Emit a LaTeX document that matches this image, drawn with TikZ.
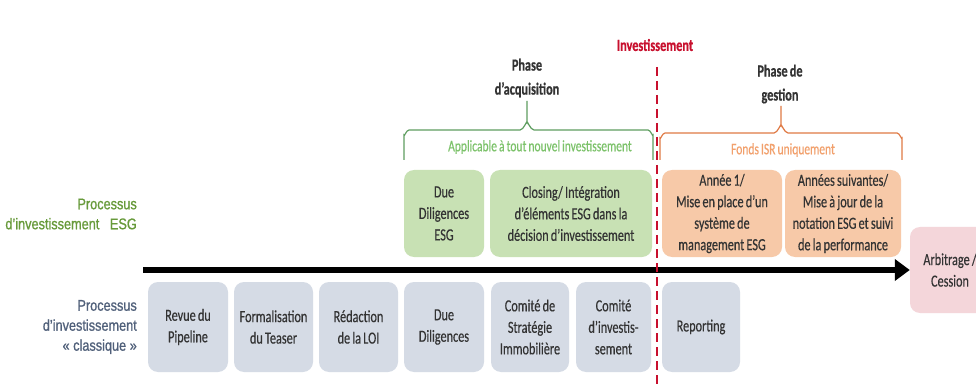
\documentclass[tikz,border=0pt]{standalone}
\usepackage{fontspec}
\setmainfont{Carlito}[FakeStretch=0.72,FakeBold=0.4,WordSpace=0.8]
\newfontfamily\labfont{Liberation Sans}[FakeStretch=0.82,FakeBold=0.9]
\newfontfamily\ttlfont{Carlito}[FakeStretch=0.72,FakeBold=0.6,WordSpace=0.8]
\usetikzlibrary{arrows.meta}
\definecolor{gfill}{HTML}{C8E1B4}
\definecolor{ofill}{HTML}{F7C9A8}
\definecolor{bfill}{HTML}{D5DBE5}
\definecolor{pfill}{HTML}{F4D6DA}
\definecolor{txt}{HTML}{333333}
\definecolor{glab}{HTML}{679A3A}
\definecolor{blab}{HTML}{50607A}
\definecolor{gbr}{HTML}{5E9E60}
\definecolor{gtx}{HTML}{7CC26A}
\definecolor{obr}{HTML}{E07A45}
\definecolor{otx}{HTML}{F2A06C}
\definecolor{invred}{HTML}{C8102E}
\begin{document}
\begin{tikzpicture}[x=1pt,y=-1pt,
  box/.style={rounded corners=10pt, inner sep=0pt, align=center, text=txt,
    font=\fontsize{17}{21.5}\selectfont},
  gbox/.style={box, fill=gfill, minimum height=87pt},
  obox/.style={box, fill=ofill, minimum height=87pt},
  bbox/.style={box, fill=bfill, minimum height=90pt},
  title/.style={align=center, inner sep=0pt, font=\ttlfont\bfseries\fontsize{17}{24}\selectfont},
  sidelab/.style={align=right, anchor=east, inner sep=0pt, font=\labfont\fontsize{15.5}{20}\selectfont},
  brace/.style={line width=1.2pt},
  ]
\clip (0,0) rectangle (976,387);
\fill[white] (0,0) rectangle (976,387);

% titles
\node[title, text=invred] (inv) at (655,45) {Investissement};
\node[title, text=txt] (acq) at (527,78) {Phase\\d’acquisition};
\node[title, text=txt] (ges) at (780,84) {Phase de\\gestion};

% braces
\draw[brace, gbr] (404,160) -- (404,135) to[out=-90,in=180] (409,130) -- (520,130)
  to[out=0,in=90] (527,123) -- (527,101);
\draw[brace, gbr] (527,123) to[out=90,in=180] (534,130) -- (648,130)
  to[out=0,in=-90] (653,135) -- (653,160);
\node[text=gtx, inner sep=0pt, font=\fontsize{16}{17}\selectfont] (appl) at (540,147) {Applicable à tout nouvel investissement};

\draw[brace, obr] (660,160) -- (660,138) to[out=-90,in=180] (665,133) -- (774,133)
  to[out=0,in=90] (781,126) -- (781,106);
\draw[brace, obr] (781,126) to[out=90,in=180] (788,133) -- (897,133)
  to[out=0,in=-90] (902,138) -- (902,160);
\node[text=otx, inner sep=0pt, font=\fontsize{16}{17}\selectfont] (isr) at (783,150) {Fonds ISR uniquement};

% ESG row
\node[gbox, minimum width=80pt] (dde) at (444,213.5) {Due\\Diligences\\ESG};
\node[gbox, minimum width=162pt] (clo) at (571,213.5) {Closing/ Intégration\\d’éléments ESG dans la\\décision d’investissement};
\node[obox, minimum width=120pt] (an1) at (722,213.5) {Année 1/\\Mise en place d’un\\système de\\management ESG};
\node[obox, minimum width=116pt] (ans) at (843,213.5) {Années suivantes/\\Mise à jour de la\\notation ESG et suivi\\de la performance};

% classic row
\node[bbox, minimum width=80pt] (rev) at (188,327) {Revue du\\Pipeline};
\node[bbox, minimum width=79pt] (frm) at (273.5,327) {Formalisation\\du Teaser};
\node[bbox, minimum width=79pt] (loi) at (358.5,327) {Rédaction\\de la LOI};
\node[bbox, minimum width=80pt] (dd) at (444,327) {Due\\Diligences};
\node[bbox, minimum width=78pt] (csi) at (530,327) {Comité de\\Stratégie\\Immobilière};
\node[bbox, minimum width=75pt] (cin) at (613.5,327) {Comité\\d’investis-\\sement};
\node[bbox, minimum width=78pt] (rep) at (701,327) {Reporting};

% exit box
\node[box, fill=pfill, minimum width=80pt, minimum height=86pt] (arb) at (950,270) {Arbitrage /\\Cession};

% side labels
\node[sidelab, text=glab] (lesg) at (137,214) {Processus\\d’investissement~~~ESG};
\node[sidelab, text=blab] (lcla) at (137,327) {Processus\\d’investissement\\« classique »};

% timeline arrow
\coordinate (as) at (143,270);
\coordinate (ae) at (arb.west);
\draw[line width=6.5pt, -{Triangle[length=15pt,width=21pt]}] (as) -- (ae);

% investment line
\coordinate (it) at (657,67);
\coordinate (ib) at (657,390);
\draw[invred, line width=2.6pt, dash pattern=on 9pt off 5pt] (it) -- (ib);
\end{tikzpicture}
\end{document}
